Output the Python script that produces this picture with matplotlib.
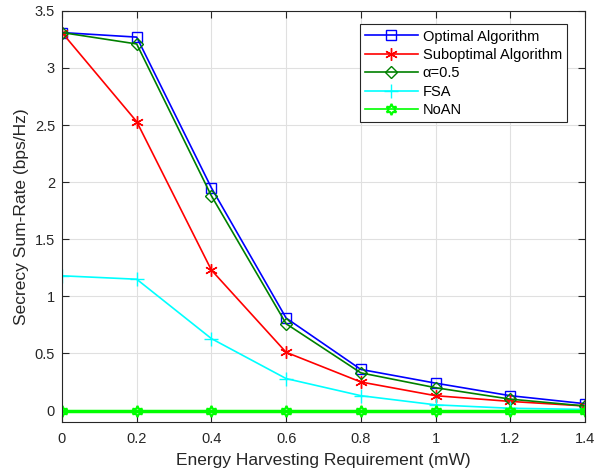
import matplotlib
matplotlib.use("Agg")
import matplotlib.pyplot as plt

x = [0, 0.2, 0.4, 0.6, 0.8, 1.0, 1.2, 1.4]
optimal = [3.31, 3.27, 1.95, 0.81, 0.36, 0.24, 0.13, 0.06]
suboptimal = [3.31, 2.53, 1.23, 0.51, 0.25, 0.13, 0.08, 0.04]
alpha05 = [3.31, 3.21, 1.88, 0.76, 0.33, 0.20, 0.10, 0.04]
fsa = [1.18, 1.15, 0.63, 0.28, 0.13, 0.05, 0.02, 0.01]
noan = [0, 0, 0, 0, 0, 0, 0, 0]
xtick_labels = ['0', '0.2', '0.4', '0.6', '0.8', '1', '1.2', '1.4']
yticks = [0, 0.5, 1, 1.5, 2, 2.5, 3, 3.5]
ytick_labels = ['0', '0.5', '1', '1.5', '2', '2.5', '3', '3.5']

plt.rcParams['font.family'] = ['Liberation Sans', 'DejaVu Sans']
fig = plt.figure(figsize=(6.10, 4.72), dpi=100)
ax = fig.add_axes([0.1016, 0.106, 0.8574, 0.871])

ax.plot(x, optimal, color='#0000ff', marker='s', mfc='none', ms=7, lw=1.2, label='Optimal Algorithm')
ax.plot(x, suboptimal, color='#ff0000', marker=(6, 2, 0), ms=9, lw=1.2, label='Suboptimal Algorithm')
ax.plot(x, alpha05, color='#008000', marker='D', mfc='none', ms=6.5, lw=1.2, label='α=0.5')
ax.plot(x, fsa, color='#00ffff', marker='+', ms=10, lw=1.2, label='FSA')
ax.plot(x, noan, color='#00ff00', lw=2.5)
ax.plot(x, noan, color='#00ff00', marker=(6, 1, 0), mfc='none', ms=8, mew=1.5, lw=1.2, label='NoAN')

ax.set_xlim(0, 1.4)
ax.set_ylim(-0.1, 3.5)
ax.set_xticks(x)
ax.set_xticklabels(xtick_labels)
ax.set_yticks(yticks)
ax.set_yticklabels(ytick_labels)
ax.grid(True, color='#e0e0e0', lw=0.8)
ax.set_axisbelow(True)
ax.tick_params(direction='in', labelsize=10.5, colors='#262626', top=True, right=True, length=5)
ax.tick_params(axis='x', pad=7.5)
ax.tick_params(axis='y', pad=5)
for s in ax.spines.values():
    s.set_color('#262626')
    s.set_linewidth(0.8)
ax.set_xlabel('Energy Harvesting Requirement (mW)', fontsize=12.5, color='#262626', labelpad=5)
ax.set_ylabel('Secrecy Sum-Rate (bps/Hz)', fontsize=12.5, color='#262626', labelpad=4)

leg = ax.legend(loc='upper right', bbox_to_anchor=(0.966, 0.967), fontsize=10.5, fancybox=False,
                edgecolor='#262626', framealpha=1, borderpad=0.35, labelspacing=0.3,
                handlelength=3.6, handletextpad=0.35, borderaxespad=0)
leg.get_frame().set_linewidth(0.8)

fig.savefig('out.png', dpi=100)
